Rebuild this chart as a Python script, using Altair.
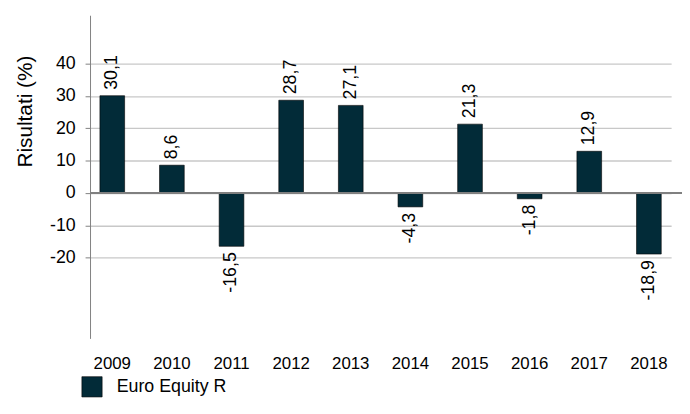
import altair as alt
import pandas as pd

years = ["2009", "2010", "2011", "2012", "2013", "2014", "2015", "2016", "2017", "2018"]
values = [30.1, 8.6, -16.5, 28.7, 27.1, -4.3, 21.3, -1.8, 12.9, -18.9]
series_name = "Euro Equity R"
y_ticks = [-20, -10, 0, 10, 20, 30, 40]

labels = [f"{v:.1f}".replace(".", ",") for v in values]
df = pd.DataFrame({"year": years, "value": values, "label": labels, "series": series_name})

FONT = "Liberation Sans"
BAR = "#022b38"
YSCALE = alt.Scale(domain=[-45, 55], nice=False, zero=False)

x = alt.X("year:N", title=None, sort=years,
          scale=alt.Scale(range=[0, 588], paddingInner=0.5856, paddingOuter=0.1658),
          axis=alt.Axis(labelAngle=0, labelFontSize=17, labelFont=FONT, labelColor="#000000",
                        domain=False, ticks=False, tickSize=0, labelPadding=17, grid=False))
y = alt.Y("value:Q", title="Risultati (%)", scale=YSCALE,
          axis=alt.Axis(values=y_ticks, grid=True, gridColor="#c8c8c8", gridWidth=1.3,
                        gridOpacity=1, labelExpr="'' + datum.value",
                        domainColor="#808080", tickColor="#808080", tickSize=5,
                        labelFontSize=18, labelFont=FONT, labelColor="#000000", labelPadding=10,
                        titleFontSize=21, titleFont=FONT, titleFontWeight="normal",
                        titleColor="#000000", titleAngle=270, titleAlign="center",
                        titleBaseline="middle", titleX=-65, titleY=97))

base = alt.Chart(df)

bars = base.mark_bar(stroke="#000000", strokeWidth=0.6).encode(
    x=x, y=y, y2=alt.datum(0),
    color=alt.Color("series:N", scale=alt.Scale(range=[BAR]),
                    legend=alt.Legend(title=None, orient="none", legendX=-9, legendY=365,
                                      symbolType="square", symbolSize=420,
                                      symbolStrokeColor="#000000", symbolStrokeWidth=0.6,
                                      labelFontSize=18, labelFont=FONT, labelColor="#000000",
                                      labelOffset=14, padding=0)),
)

zero = alt.Chart(df).mark_rule(color="#808080", strokeWidth=1.2).encode(y=alt.datum(0))

pos = base.transform_filter("datum.value >= 0").mark_text(
    angle=270, align="left", baseline="middle", dx=6, fontSize=18, font=FONT, color="#000000"
).encode(x=x, y=y, text="label:N")

neg = base.transform_filter("datum.value < 0").mark_text(
    angle=270, align="right", baseline="middle", dx=-6, fontSize=18, font=FONT, color="#000000"
).encode(x=x, y=y, text="label:N")

chart = alt.layer(bars, zero, pos, neg).properties(
    width=599, height=327,
    autosize=alt.AutoSizeParams(type="none"),
    padding={"left": 83, "top": 5, "right": 0, "bottom": 60},
).configure_view(stroke=None).configure_axisY(grid=True, gridColor="#c8c8c8", gridWidth=1.3)

chart.save("out.html", embed_options={"renderer": "svg", "actions": False})
